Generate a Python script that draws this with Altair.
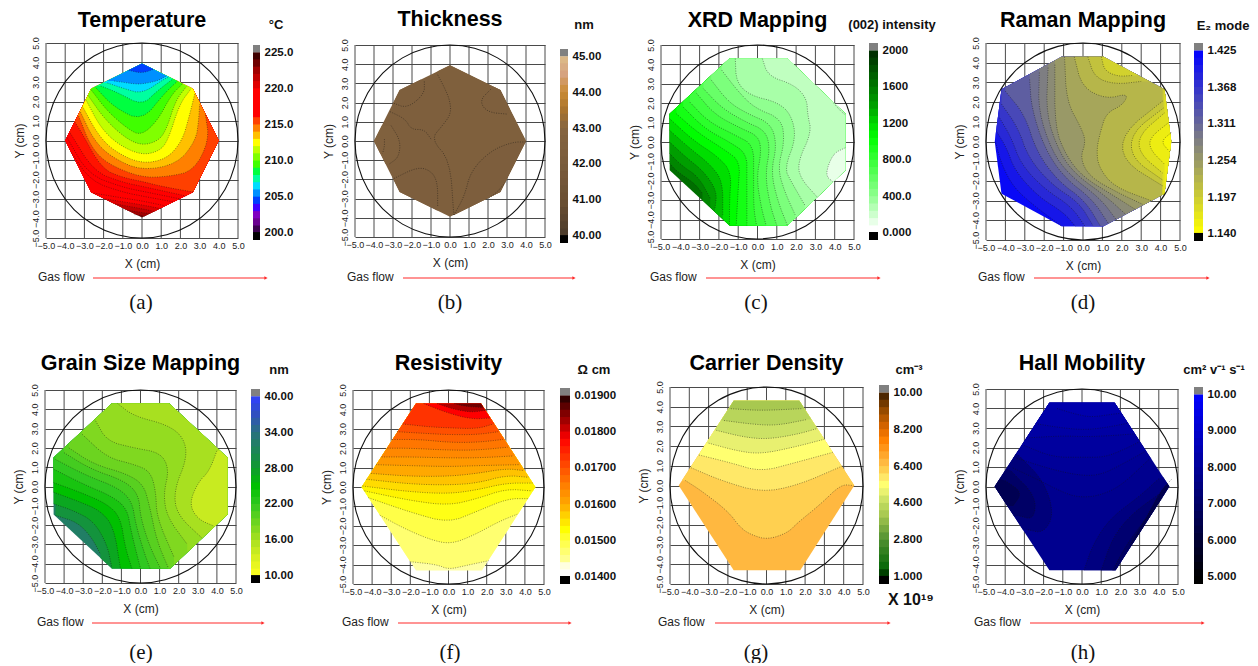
import altair as alt
import pandas as pd

FONT = "Liberation Sans"
SERIF = "Liberation Serif"
TICKS = [-5, -4, -3, -2, -1, 0, 1, 2, 3, 4, 5]

HULL_DIAMOND = [(0, 3.95), (-2.65, 2.65), (-4, 0), (-2.65, -2.65), (0, -3.95), (2.65, -2.65), (4, 0), (2.65, 2.65)]
HULL_C = [(-1.45, 4.3), (-4.55, 1.45), (-4.55, -1.45), (-1.45, -4.3), (1.55, -4.3), (4.55, -1.45), (4.55, 1.45), (1.55, 4.3)]
HULL_D = [(-1.1, 4.3), (-4.2, 2.65), (-4.55, 0), (-4.2, -2.65), (-1.1, -4.3), (1.05, -4.3), (4.2, -2.65), (4.55, 0), (4.2, 2.65), (1.05, 4.3)]
HULL_E = [(-1.5, 4.3), (-4.55, 1.5), (-4.55, -1.45), (-1.5, -4.25), (1.55, -4.25), (4.55, -1.45), (4.55, 1.5), (1.5, 4.3)]
HULL_HEX = [(-1.7, 4.3), (-4.55, 0), (-1.7, -4.3), (1.75, -4.3), (4.55, 0), (1.7, 4.3)]

# ---- colour-bar stops -------------------------------------------------
STOPS_A = [(200.5, "#3c0050"), (201.5, "#6a0090"), (202.5, "#8000c0"), (203.5, "#4000ff"), (204.5, "#0040ff"),
           (205.5, "#0090ff"), (206.5, "#00dcff"), (207.5, "#00ffa0"), (208.5, "#00ff40"), (209.5, "#40ff00"),
           (210.5, "#80ff00"), (211.5, "#c0ff00"), (212.5, "#ffff00"), (213.5, "#ffc000"), (214.5, "#ff8000"),
           (215.5, "#ff4000"), (216.5, "#ff0000"), (219.5, "#ff0000"), (220.5, "#e00000"), (221.5, "#c00000"),
           (222.5, "#a00000"), (223.5, "#700000"), (224.5, "#400000")]
STOPS_B = [(40, "#4a3a2a"), (41, "#6b5033"), (42, "#7a5c3c"), (43, "#86653f"), (43.5, "#a9742f"), (44, "#c98a33"),
           (44.5, "#d6a27f"), (45, "#dcbc88")]
STOPS_C = [(40, "#ffffff"), (120, "#e8ffe8"), (240, "#c0ffc0"), (400, "#90ff90"), (720, "#48ff48"), (1040, "#00ff00"),
           (1200, "#00d800"), (1360, "#00a800"), (1600, "#007800"), (1960, "#003000")]
STOPS_D = [(1.14, "#ffff00"), (1.2825, "#808080"), (1.425, "#0000ff")]
STOPS_E = [(10, "#ffff20"), (13, "#d8f020"), (16, "#a8e020"), (22, "#30c820"), (25, "#00c000"), (28, "#109a30"),
           (34, "#2a7080"), (37, "#3050c0"), (40, "#3040ff")]
STOPS_F = [(0.0141, "#ffffff"), (0.0143, "#ffffe0"), (0.0145, "#ffff90"), (0.0150, "#ffff40"), (0.0153, "#ffff00"),
           (0.0157, "#ffd000"), (0.0160, "#ffa800"), (0.0165, "#ff8000"), (0.0170, "#ff5000"), (0.0175, "#ff2000"),
           (0.0178, "#ff0000"), (0.0182, "#b00000"), (0.0186, "#700000"), (0.0189, "#300000")]
STOPS_G = [(1.18, "#004000"), (1.5, "#0a6a0a"), (2.8, "#509030"), (4.0, "#a8c850"), (4.6, "#c0dc60"), (5.1, "#e8f070"),
           (5.5, "#ffff70"), (5.85, "#ffe868"), (6.2, "#ffd050"), (6.6, "#ffb840"), (7.7, "#ff8000"), (8.2, "#e06800"),
           (9.0, "#a05000"), (9.8, "#502800")]
STOPS_H = [(5, "#000000"), (10, "#0000ff")]

# ---- contour curves: (band value, closure, curve[, extra closing points]) ----
BASE_A = 223.5
LINES_A = [
    (222.5, "U", [(-0.4, -3.8), (0, -3.85), (0.2, -3.9)]),
    (221.5, "U", [(-0.9, -3.55), (0, -3.7), (0.45, -3.75)]),
    (220.5, "U", [(-1.4, -3.25), (0, -3.5), (0.7, -3.65)]),
    (219.5, "U", [(-1.9, -3.0), (0, -3.3), (1, -3.5)]),
    (218.5, "U", [(-2.5, -2.7), (-1, -2.95), (0, -3.1), (1.2, -3.35)]),
    (217.5, "U", [(-3.7, -0.6), (-2.65, -2.1), (-1, -2.65), (0, -2.85), (1.65, -3.15)]),
    (216.5, "U", [(-3.9, 0.15), (-2.8, -1.75), (-1, -2.4), (0, -2.6), (2, -3)]),
    (216.2, "U", [(-3.75, 0.4), (-2.5, -1.6), (-1, -2.15), (0, -2.35), (2.3, -2.85)]),
    (215.5, "U", [(-3.5, 0.95), (-3.2, 0.5), (-2.1, -1.45), (-1, -1.9), (0, -2.1), (1, -2.35), (2.7, -2.65)]),
    (214.5, "U", [(-3.3, 1.25), (-2.65, -0.35), (-1.8, -1.2), (-0.05, -1.9), (1.4, -1.85), (2.7, -1.55), (3.5, 0), (3.3, 1.35)]),
    (213.5, "U", [(-3.2, 1.45), (-2.5, 0), (-1.6, -0.85), (-0.05, -1.55), (1.85, -1.2), (2.8, 0), (2.95, 1.0), (3.0, 1.85)]),
    (212.5, "U", [(-3.1, 1.75), (-2.3, 0.3), (-1.45, -0.55), (-0.05, -1.2), (1.3, -0.95), (2.1, 0), (2.45, 1.2), (2.75, 2.4)]),
    (211.5, "U", [(-2.9, 2.05), (-2.15, 0.65), (-1.25, -0.2), (-0.05, -0.75), (0.9, -0.55), (1.35, 0), (1.95, 1.85), (2.55, 2.65)]),
    (210.5, "U", [(-2.8, 2.3), (-1.95, 1.1), (-0.9, 0.15), (-0.05, -0.25), (0.8, -0.05), (1.25, 0.5), (1.75, 2.05), (2.3, 2.75)]),
    (209.5, "U", [(-2.65, 2.6), (-1.8, 1.5), (-0.75, 0.6), (-0.05, 0.25), (0.8, 1.0), (1.5, 2.3), (2.1, 2.9)]),
    (208.5, "U", [(-2.4, 2.7), (-1.45, 1.7), (0, 1.0), (1.15, 2.4), (1.85, 3.05)]),
    (207.5, "U", [(-2.15, 2.8), (-1.25, 2.45), (0, 1.8), (0.8, 2.55), (1.6, 3.15)]),
    (206.5, "U", [(-1.8, 2.95), (-0.9, 2.65), (0, 2.4), (1.15, 3.15), (1.4, 3.25)]),
    (205.5, "U", [(-1.45, 3.05), (-0.4, 2.9), (0, 2.9), (0.8, 3.05), (1.25, 3.3)]),
    (204.5, "U", [(-0.7, 3.6), (0, 3.45), (0.6, 3.65)]),
]

BASE_B = 42.35
LINES_B = [
    (42.45, "C", [(-0.65, 3.45), (-0.3, 2.8), (0, 2.1), (0.05, 1.4), (-0.4, 0.8), (-1.0, 0.1), (0.0, -1.0), (0.2, -3.85)], [(5, -5), (5, 5), (-0.65, 5)]),
    (42.3, "C", [(-1.35, 3.1), (-1.35, 2.45), (-2.25, 1.7), (-3.05, 2.0)], [(-5, 5)]),
    (42.3, "C", [(2.15, 2.7), (1.55, 2.1), (1.95, 1.5), (3.0, 1.4)], [(5, 5)]),
    (42.25, "C", [(0.2, -3.85), (0.75, -2.9), (1.1, -1.55), (2.15, -0.5), (3.3, -0.05), (4, -0.05)], [(5, -5)]),
    (42.25, "C", [(-2.95, -1.95), (-1.7, -1.35), (-1.0, -1.55), (-0.65, -2.15), (-0.65, -3.45)], [(-0.65, -5), (-5, -5)]),
    (42.5, "C", [(-3.1, 0.8), (-2.6, 0), (-2.7, -0.85), (-3.2, -1.2)], [(-5, -1.2), (-5, 0.8)]),
    (42.6, "C", [(-3.45, 0.1), (-3.45, -0.3), (-3.55, -0.65)], [(-5, -0.65), (-5, 0.1)]),
]
EXTRA_B = [
    [(-1.0, 0.1), (-1.35, 0.6), (-2.05, 0.6), (-2.35, 1.15), (-3.2, 1.55)],
    [(3, -2.05), (2.5, -2.65), (2, -3)],
]

BASE_C = 1650
LINES_C = [
    (1530, "R", [(-4.55, -1.1), (-4.2, -1.5), (-3.3, -2.1), (-2.85, -2.65)]),
    (1410, "R", [(-4.55, -0.6), (-3.95, -1.2), (-3.05, -1.8), (-2.45, -2.9)]),
    (1290, "R", [(-4.55, 0.0), (-3.75, -0.75), (-2.75, -1.55), (-2.1, -2.55), (-2.2, -3.4)]),
    (1170, "R", [(-4.55, 0.6), (-3.6, -0.25), (-2.4, -1.2), (-1.8, -2.05), (-1.8, -3.75)]),
    (1050, "R", [(-4.55, 1.2), (-3.35, 0.1), (-2.05, -0.75), (-1.35, -1.55), (-1.45, -3.05), (-1.45, -4.3)]),
    (950, "R", [(-4.2, 1.45), (-3.05, 0.45), (-1.7, -0.4), (-0.9, -1.0), (-1.0, -2.4), (-1.1, -4.3)]),
    (850, "R", [(-3.85, 1.8), (-2.75, 0.7), (-1.45, 0), (-0.55, -0.6), (-0.55, -1.85), (-0.55, -3.6), (-0.55, -4.3)]),
    (760, "R", [(-3.5, 2.05), (-2.55, 1.05), (-1.15, 0.35), (-0.2, -0.15), (-0.2, -1.7), (-0.2, -3.4), (-0.05, -4.3)]),
    (670, "R", [(-3.15, 2.5), (-2.2, 1.4), (-0.85, 0.7), (0.05, 0.3), (0.2, -0.5), (-0.05, -1.85), (0.2, -3.4), (0.45, -4.3)]),
    (580, "R", [(-2.8, 2.75), (-1.85, 1.75), (-0.65, 1.05), (0.4, 0.6), (0.65, -0.3), (0.4, -1.7), (0.65, -3.25), (1.0, -4.3)]),
    (490, "R", [(-2.4, 3.2), (-1.5, 2.05), (-0.5, 1.45), (0.7, 0.95), (1.0, -0.15), (0.7, -1.55), (1.05, -3.05), (1.55, -4.3)]),
    (400, "R", [(-1.85, 3.7), (-1.0, 2.6), (-0.15, 1.75), (1.25, 1.2), (1.4, 0), (1.05, -1.35), (1.4, -2.55), (1.95, -3.75)]),
    (320, "R", [(-1.15, 4.3), (-1.1, 3.1), (-0.4, 2.4), (1.05, 2.05), (1.75, 1.4), (2.0, 0.2), (1.4, -1.35), (1.75, -2.05), (2.45, -3.25)]),
    (240, "R", [(0.25, 4.3), (0.55, 3.4), (1.9, 2.95), (2.55, 2.25), (2.6, 1.4), (2.8, 0.5), (2.1, -1.0), (2.2, -1.85), (3.15, -2.9)]),
    (120, "C", [(4.55, -0.3), (3.9, -0.6), (3.5, -1.7), (3.9, -2.05)], [(5, -3)]),
]
EXTRA_C = [[(3.95, 2.0), (4.3, 1.6), (4.55, 1.4)]]

BASE_D = 1.415
LINES_D = [
    (1.40, "R", [(-4.5, -0.05), (-4.2, -1.15), (-3.6, -2.3), (-2.6, -3.2), (-1.1, -4.3)]),
    (1.38, "R", [(-4.45, 0.5), (-3.95, -0.3), (-3.5, -1.5), (-2.3, -2.8), (-1.0, -3.6), (-0.4, -4.3)]),
    (1.365, "R", [(-4.3, 1.2), (-3.7, 0.2), (-3.2, -1.15), (-2, -2.4), (-0.6, -3.3), (0.1, -4.3)]),
    (1.345, "R", [(-4.2, 1.9), (-3.35, 0.7), (-2.8, -0.85), (-1.6, -2.2), (-0.2, -3.1), (0.5, -4.25)]),
    (1.32, "R", [(-4.0, 2.55), (-3.0, 1.35), (-2.4, -0.5), (-1.3, -2.0), (0.1, -3.0), (0.9, -4.3)]),
    (1.30, "R", [(-2.75, 3.15), (-2.65, 1.7), (-2.0, -0.3), (-1.0, -1.8), (0.5, -2.95), (1.3, -4.15)]),
    (1.285, "R", [(-2.25, 3.5), (-2.3, 1.55), (-1.6, -0.5), (-0.7, -1.7), (0.9, -2.9), (1.7, -3.95)]),
    (1.27, "R", [(-1.8, 3.75), (-1.9, 1.35), (-1.2, -0.6), (-0.35, -1.7), (1.2, -2.8), (2.2, -3.7)]),
    (1.255, "R", [(-1.45, 3.9), (-1.45, 0.7), (-0.85, -0.75), (0, -1.8), (1.5, -2.7), (2.7, -3.45)]),
    (1.24, "R", [(-0.95, 4.3), (-0.85, 2.05), (-0.1, 0.7), (0.15, 0), (-0.15, -0.85), (0.35, -1.8), (1.8, -2.6), (3.1, -3.2)]),
    (1.222, "R", [(-0.45, 4.3), (-0.05, 2.75), (1.2, 2.15), (2.35, 2.45), (2.05, 1.85), (1.2, 1.45), (0.9, 0.5), (0.7, -0.4), (0.8, -1.3), (1.6, -2.3), (3.5, -3.0)]),
    (1.205, "R", [(4.1, 2.05), (2.05, 0.45), (2.05, -1), (4.1, -2.25)]),
    (1.19, "R", [(4.15, 1.7), (2.5, 0.45), (2.5, -0.85), (4.1, -1.95)]),
    (1.175, "R", [(4.2, 1.45), (2.9, 0.35), (2.9, -0.6), (4.1, -1.6)]),
    (1.16, "R", [(4.4, 0.95), (3.45, 0.2), (3.45, -0.4), (4.2, -1.15)]),
    (1.148, "R", [(4.55, 0.45), (4.0, 0), (4.5, -0.55)]),
    (1.208, "U", [(0.25, 4.3), (0.6, 3.25), (1.65, 2.9), (3.0, 3.05)]),
    (1.19, "U", [(0.95, 4.3), (1.1, 3.6), (1.8, 3.3), (2.55, 3.35)]),
]

BASE_E = 32
LINES_E = [
    (29, "R", [(-4.45, -1.5), (-3.3, -1.85), (-2.55, -2.65), (-2.1, -3.5)]),
    (27, "R", [(-4.55, -0.9), (-3.5, -1.25), (-2.45, -1.8), (-1.75, -3.0), (-1.5, -4.2)]),
    (25, "R", [(-4.55, -0.3), (-3.3, -0.75), (-2.1, -1.25), (-1.4, -2.1), (-1.05, -4.25)]),
    (23.5, "R", [(-4.55, 0.2), (-3.15, -0.3), (-1.75, -0.9), (-1.05, -1.6), (-0.8, -3.15), (-0.45, -4.25)]),
    (22, "R", [(-4.55, 0.9), (-2.95, 0.1), (-1.5, -0.5), (-0.7, -1.15), (-0.5, -2.3), (0, -4.25)]),
    (21, "R", [(-4.45, 1.4), (-2.8, 0.55), (-1.2, -0.05), (-0.45, -0.75), (-0.25, -1.95), (0.15, -3.3), (0.5, -4.25)]),
    (20, "R", [(-4.0, 1.75), (-2.6, 0.9), (-0.85, 0.3), (-0.1, -0.4), (0, -1.6), (0.5, -3.15), (1.05, -4.25)]),
    (19, "R", [(-3.75, 2.0), (-2.45, 1.15), (-0.7, 0.65), (0.15, 0.1), (0.45, -0.9), (0.85, -2.8), (1.45, -4.2)]),
    (18, "R", [(-3.05, 2.7), (-1.75, 1.5), (-0.35, 1.15), (0.5, 0.8), (0.8, -0.2), (0.85, -1.6), (1.75, -3.65)]),
    (17, "R", [(-2.35, 3.4), (-1.75, 2.35), (-0.35, 2.0), (1.05, 1.75), (1.5, 0.9), (1.2, -0.4), (1.4, -1.6), (2.45, -3.0)]),
    (16, "R", [(-1.2, 4.3), (-0.35, 3.65), (1.4, 3.2), (2.25, 2.55), (2.45, 1.5), (1.75, -0.2), (1.9, -1.45), (3.25, -2.7)]),
    (14, "C", [(4.0, 1.85), (3.6, 0.8), (3.0, 0.2), (2.55, -0.9), (3.0, -1.7), (3.85, -2.05)], [(5, -2.05), (5, 1.85)]),
]

BASE_F = 0.01445
LINES_F = [
    (0.0147, "U", [(-2.0, -3.85), (-0.6, -4.0), (0, -4.25), (0.9, -4.05), (2.1, -3.8)]),
    (0.01495, "U", [(-3.6, -1.45), (-2.4, -2.1), (-1, -2.7), (0.1, -2.95), (1.3, -2.5), (2.6, -1.8), (3.6, -1.4)]),
    (0.0152, "U", [(-4.2, -0.55), (-2, -1.3), (0, -1.85), (1.5, -1.25), (3.1, -0.6), (4.15, -0.6)]),
    (0.0154, "U", [(-4.4, -0.2), (-2, -0.7), (0, -0.95), (1.5, -0.6), (3, -0.1), (4.35, -0.2)]),
    (0.0156, "U", [(-4.5, 0.05), (-2, -0.25), (0, -0.35), (1.5, -0.15), (3, 0.2), (4.4, 0.2)]),
    (0.0158, "U", [(-4.3, 0.4), (-2, 0.15), (0, 0.1), (1.5, 0.2), (3, 0.6), (4.2, 0.5)]),
    (0.0160, "U", [(-4.05, 0.7), (-2, 0.55), (0, 0.55), (1.5, 0.7), (3, 0.95), (3.95, 0.85)]),
    (0.0162, "U", [(-3.8, 1.15), (-2, 1.1), (0, 1.05), (1.5, 1.1), (3.7, 1.15)]),
    (0.0164, "U", [(-3.5, 1.55), (-2, 1.55), (0, 1.5), (1.5, 1.5), (3.4, 1.6)]),
    (0.0166, "U", [(-3.2, 2.0), (-2, 2.0), (0, 1.9), (1.5, 1.9), (3.1, 2.05)]),
    (0.0168, "U", [(-2.95, 2.45), (-1.5, 2.45), (0, 2.3), (1.5, 2.3), (2.85, 2.45)]),
    (0.0170, "U", [(-2.7, 2.85), (-1, 2.75), (0, 2.7), (1.5, 2.7), (2.6, 2.85)]),
    (0.0173, "U", [(-2.4, 3.25), (-1, 3.1), (0, 3.05), (1.5, 3.0), (2.35, 3.25)]),
    (0.0178, "U", [(-1.3, 4.3), (0, 3.8), (1.2, 3.5), (2.15, 3.55)]),
    (0.0182, "U", [(-0.6, 4.3), (0.3, 4.0), (1.2, 3.85), (1.95, 3.95)]),
    (0.0186, "U", [(0.3, 4.3), (0.9, 4.15), (1.8, 4.1)]),
]

BASE_G = 6.6
LINES_G = [
    (6.2, "U", [(-4.2, 0.25), (-3.4, -0.25), (-2, -1.3), (-1.35, -2.15), (-0.8, -2.5), (0.05, -2.75), (1.1, -2.4), (1.6, -1.9), (2.8, -0.95), (3.85, 0.05), (4.5, 0)]),
    (5.85, "U", [(-3.9, 0.9), (-2.35, 0.25), (-0.3, -0.35), (1.6, 0), (3.95, 1.0)]),
    (5.5, "U", [(-3.5, 1.55), (-1.85, 1.15), (-0.3, 0.7), (1.45, 1.15), (3.5, 1.7)]),
    (5.1, "U", [(-3.0, 2.15), (-1.5, 1.75), (-0.3, 1.6), (1.45, 1.95), (3.0, 2.35)]),
    (4.75, "U", [(-2.6, 2.8), (-1.15, 2.45), (0.05, 2.35), (1.6, 2.6), (2.65, 2.9)]),
    (4.4, "U", [(-2.2, 3.3), (-0.65, 3.1), (0.55, 3.05), (2.1, 3.35)]),
    (4.0, "U", [(-1.85, 3.9), (-0.3, 3.8), (1.8, 3.9)]),
]

BASE_H = 7.8
LINES_H = [
    (7.9, "U", [(-3.6, 0.95), (-2.4, 0.4), (-1, -0.3), (-0.2, -0.55), (0.8, -0.5), (2, 0.0), (3.5, 1.4)]),
    (8.0, "U", [(-3.4, 1.45), (-1.5, 0.85), (0, 0.55), (1, 0.6), (2.2, 1.2), (3.3, 1.8)]),
    (8.1, "U", [(-3, 2.1), (-1.5, 1.5), (0, 1.5), (1.2, 1.5), (2.3, 1.95), (3.0, 2.3)]),
    (8.2, "U", [(-2.75, 2.5), (-1, 2.6), (0.2, 2.55), (1.4, 2.6), (2.75, 2.7)]),
    (8.3, "U", [(-2.3, 3.2), (-1, 3.0), (0.2, 2.9), (1.4, 3.05), (2.4, 3.25)]),
    (8.4, "U", [(-1.3, 4.0), (-0.3, 3.7), (0.5, 3.55), (1.5, 3.7), (2, 3.75)]),
    (7.4, "C", [(-3.3, 1.6), (-2, 0.3), (-1.45, -1.4), (-2, -2.4), (-2.9, -2.2)], [(-6, -3), (-6, 3)]),
    (7.0, "C", [(-3.7, 0.8), (-2.4, -0.5), (-2.5, -1.7), (-3.3, -1.5)], [(-6, -2), (-6, 2)]),
    (6.6, "C", [(-4, 0.3), (-3.1, -0.3), (-3.6, -1)], [(-6, -1), (-6, 1)]),
    (7.5, "C", [(0.1, -4.3), (0.6, -2.9), (1.5, -1.6), (3, -0.5), (4, 0.4)], [(6, 1), (6, -6), (0.1, -6)]),
    (7.2, "C", [(1, -4.3), (1.6, -2.6), (2.6, -1.4), (4.0, -0.4)], [(6, 0), (6, -6), (1, -6)]),
    (6.9, "C", [(1.6, -4.3), (2.3, -3), (3.2, -1.8), (4.2, -0.6)], [(6, 0), (6, -6), (1.6, -6)]),
    (6.5, "C", [(2.5, -3), (3.4, -1.5), (4.1, -0.2), (4.7, 0.4)], [(6, 0.4), (6, -6)]),
]

# title, unit, lo, hi, ticks, stops, hull, base, lines, extra
SPECS = {
    "a": ("Temperature", "°C", 200, 225, [200, 205, 210, 215, 220, 225], STOPS_A, HULL_DIAMOND, BASE_A, LINES_A, []),
    "b": ("Thickness", "nm", 40, 45, [40, 41, 42, 43, 44, 45], STOPS_B, HULL_DIAMOND, BASE_B, LINES_B, EXTRA_B),
    "c": ("XRD Mapping", "(002) intensity", 0, 2000, [0, 400, 800, 1200, 1600, 2000], STOPS_C, HULL_C, BASE_C, LINES_C, EXTRA_C),
    "d": ("Raman Mapping", "E₂ mode", 1.14, 1.425, [1.14, 1.197, 1.254, 1.311, 1.368, 1.425], STOPS_D, HULL_D, BASE_D, LINES_D, []),
    "e": ("Grain Size Mapping", "nm", 10, 40, [10, 16, 22, 28, 34, 40], STOPS_E, HULL_E, BASE_E, LINES_E, []),
    "f": ("Resistivity", "Ω cm", 0.014, 0.019, [0.014, 0.015, 0.016, 0.017, 0.018, 0.019], STOPS_F, HULL_HEX, BASE_F, LINES_F, []),
    "g": ("Carrier Density", "cm⁻³", 1, 10, [1, 2.8, 4.6, 6.4, 8.2, 10], STOPS_G, HULL_HEX, BASE_G, LINES_G, []),
    "h": ("Hall Mobility", "cm² v⁻¹ s⁻¹", 5, 10, [5, 6, 7, 8, 9, 10], STOPS_H, HULL_HEX, BASE_H, LINES_H, []),
}

GEOM = {
    "a": (45, 237, 42, 237, 252, 259, 44, 239, 26, 275, 28, 37, 92, 265, 277, 140, 302),
    "b": (354, 544, 44, 236, 559, 567, 48, 242, 25, 583, 28, 346, 402, 573, 277, 449, 302),
    "c": (660, 853, 44, 238, 868, 877, 42, 239, 26, 891, 28, 649, 705, 878, 277, 755, 302),
    "d": (985, 1179, 42, 239, 1193, 1202, 42, 240, 26, 1222, 29, 977, 1033, 1207, 277, 1082, 302),
    "e": (44, 235, 389, 582, 250, 259, 388, 582, 369, 278, 373, 36, 91, 262, 622, 140, 652),
    "f": (352, 543, 389, 583, 559, 569, 387, 583, 369, 593, 373, 341, 397, 569, 622, 449, 652),
    "g": (669, 862, 386, 583, 878, 888, 384, 583, 369, 908, 373, 657, 714, 888, 622, 755, 652),
    "h": (985, 1177, 388, 583, 1193, 1202, 386, 583, 369, 1213, 373, 973, 1029, 1202, 622, 1082, 652),
}
CIRCLE_X = [5.0, 4.83, 4.33, 3.54, 2.5, 1.29, 0.0, -1.29, -2.5, -3.54, -4.33, -4.83, -5.0, -4.83, -4.33, -3.54, -2.5, -1.29, 0.0, 1.29, 2.5, 3.54, 4.33, 4.83]
CIRCLE_Y = [0.0, 1.29, 2.5, 3.54, 4.33, 4.83, 5.0, 4.83, 4.33, 3.54, 2.5, 1.29, 0.0, -1.29, -2.5, -3.54, -4.33, -4.83, -5.0, -4.83, -4.33, -3.54, -2.5, -1.29]


def rounded(line, rounds=2):
    pts = list(line)
    for _ in range(rounds):
        new = [pts[0]]
        for p, q in zip(pts, pts[1:]):
            new.append((0.75 * p[0] + 0.25 * q[0], 0.75 * p[1] + 0.25 * q[1]))
            new.append((0.25 * p[0] + 0.75 * q[0], 0.25 * p[1] + 0.75 * q[1]))
        new.append(pts[-1])
        pts = new
    return pts


def clip(poly, hull):
    out = list(poly)
    n = len(hull)
    for i in range(n):
        ax, ay = hull[i]
        bx, by = hull[(i + 1) % n]
        inside = lambda p: (bx - ax) * (p[1] - ay) - (by - ay) * (p[0] - ax) >= 0
        src, out = out, []
        for j in range(len(src)):
            p, q = src[j], src[(j + 1) % len(src)]
            ip, iq = inside(p), inside(q)
            if ip:
                out.append(p)
            if ip != iq:
                dx, dy = q[0] - p[0], q[1] - p[1]
                denom = (bx - ax) * dy - (by - ay) * dx
                t = -((bx - ax) * (p[1] - ay) - (by - ay) * (p[0] - ax)) / denom
                out.append((p[0] + t * dx, p[1] + t * dy))
        if not out:
            break
    return out


def closed(entry):
    mode, line = entry[1], rounded(entry[2])
    x0, y0 = line[0]
    xn, yn = line[-1]
    if mode == "R":
        return [(x0, 9)] + line + [(xn, -9), (9, -9), (9, 9)]
    if mode == "U":
        return [(-9, y0)] + line + [(9, yn), (9, 9), (-9, 9)]
    return line + entry[3]


def spacer(w, h):
    return alt.Chart(pd.DataFrame({"a": [0]})).mark_point(opacity=0).encode(
        x=alt.value(0), y=alt.value(0)).properties(width=w, height=h)


def color_scale(stops):
    return alt.Scale(domain=[s[0] for s in stops], range=[s[1] for s in stops], interpolate="rgb")


def map_chart(key, top):
    title, unit, lo, hi, ticks, stops, hull, base, lines, extra = SPECS[key]
    L, R, T, B, bl, br, bt, bb, tb, uc, ub, gl, a0, a1, ay, cx, cy = GEOM[key]
    w, h = R - L, B - T
    full_h = B - top
    fx = lambda p: (p - (L + R) / 2) / (w / 10)
    fy = lambda p: ((T + B) / 2 - p) / (h / 10)
    xs = alt.Scale(domain=[-5, 5], nice=False, zero=False)
    ys = alt.Scale(domain=[-5, 5], nice=False, zero=False, range=[full_h, T - top])
    x_axis = alt.Axis(values=TICKS, format=".1f", labelFontSize=9, labelFont=FONT,
                      labelColor="#222222", labelOverlap=False, labelFlush=False, tickSize=0, domain=False,
                      grid=False, labelPadding=3, title="X (cm)", titleFont=FONT,
                      titleFontSize=12, titleFontWeight="normal", titleColor="#222222", titlePadding=8)
    y_axis = alt.Axis(values=TICKS, format=".1f", labelFontSize=9, labelFont=FONT,
                      labelColor="#222222", labelOverlap=False, labelFlush=False, labelAngle=270, labelAlign="center",
                      labelBaseline="bottom", tickSize=0, domain=False, grid=True, gridColor="#4a4a4a", gridWidth=1,
                      labelPadding=6, title="Y (cm)", titleFont=FONT, titleFontSize=12, titleFontWeight="normal",
                      titleColor="#222222", titlePadding=5)
    X = lambda f="x": alt.X(f + ":Q", scale=xs, axis=x_axis)
    Y = lambda f="y": alt.Y(f + ":Q", scale=ys, axis=y_axis)
    fill = alt.Fill("v:Q", legend=None, scale=color_scale(stops))

    rows, contour = [], []
    polys = [(base, hull)]
    for e in lines:
        polys.append((e[0], clip(closed(e), hull)))
    for k, (v, pts) in enumerate(polys):
        for i, (x, y) in enumerate(pts):
            rows.append({"k": k, "i": i, "x": x, "y": y, "v": v})
    c = 0
    for ln in [e[2] for e in lines] + list(extra):
        for i, (x, y) in enumerate(rounded(ln)):
            contour.append({"k": c, "i": i, "x": x, "y": y})
        c += 1

    vgrid = alt.Chart(pd.DataFrame({"x": TICKS, "y": [-5] * 11, "y2": [5] * 11})).mark_rule(
        color="#4a4a4a", strokeWidth=1).encode(x=X(), y=Y(), y2="y2:Q")
    fills = alt.Chart(pd.DataFrame(rows)).mark_line(stroke=None, strokeWidth=0).encode(
        x=X(), y=Y(), fill=fill, detail="k:N", order="i:Q")
    dots = alt.Chart(pd.DataFrame(contour)).mark_line(color="#111111", strokeWidth=0.6, strokeDash=[1, 1.4], opacity=0.75).encode(
        x=X(), y=Y(), detail="k:N", order="i:Q")
    circle = alt.Chart(pd.DataFrame({"x": CIRCLE_X, "y": CIRCLE_Y, "i": range(len(CIRCLE_X))})).mark_line(
        color="#111111", strokeWidth=1.1, interpolate="cardinal-closed").encode(x=X(), y=Y(), order="i:Q")

    note = pd.DataFrame({"x": [fx(gl)], "y": [fy(ay - 1)], "t": ["Gas flow"]})
    gas = alt.Chart(note).mark_text(align="left", baseline="middle", font=FONT, fontSize=12, color="#222222").encode(
        x=X(), y=Y(), text="t:N")
    arrow_df = pd.DataFrame({"x": [fx(a0)], "x2": [fx(a1)], "y": [fy(ay)]})
    arrow = alt.Chart(arrow_df).mark_rule(color="#ff2a2a", strokeWidth=1.2).encode(x=X(), x2="x2:Q", y=Y())
    tip = alt.Chart(arrow_df).mark_point(shape="triangle-right", filled=True, color="#ff2a2a", size=14, opacity=1).encode(
        x=X("x2"), y=Y())
    cap_df = pd.DataFrame({"x": [fx(cx)], "y": [fy(cy)], "t": ["(" + key + ")"]})
    cap = alt.Chart(cap_df).mark_text(align="center", baseline="middle", font=SERIF, fontSize=21, color="#111111").encode(
        x=X(), y=Y(), text="t:N")
    head_df = pd.DataFrame({"x": [0.0], "y": [fy(tb)], "t": [title]})
    head = alt.Chart(head_df).mark_text(align="center", baseline="alphabetic", font=FONT, fontSize=21.5, fontWeight="bold",
                                        color="#000000").encode(x=X(), y=Y(), text="t:N")

    return alt.layer(vgrid, fills, dots, circle, gas, arrow, tip, cap, head).properties(width=w, height=full_h)


def bar_chart(key, top):
    title, unit, lo, hi, ticks, stops, hull, base, lines, extra = SPECS[key]
    L, R, T, B, bl, br, bt, bb, tb, uc, ub, gl, a0, a1, ay, cx, cy = GEOM[key]
    step = (hi - lo) / 25
    full_h = bb - top
    fy = lambda p: lo - step + (bb - p) / (bb - bt) * (hi - lo + 2 * step)
    ys = alt.Scale(domain=[lo - step, hi + step], nice=False, zero=False, range=[full_h, bt - top])
    axis = alt.Axis(orient="right", values=ticks, title=None, domain=False,
                    labelExpr='datum.value === 0 ? "0.000" : format(datum.value, ".4r")',
                    tickSize=0, grid=False, labelFont=FONT, labelFontSize=11.5, labelFontWeight="bold", labelColor="#111111",
                    labelPadding=4, labelOverlap=False, labelFlush=False)
    Y = alt.Y("y:Q", scale=ys, axis=axis)
    rows = [{"y": lo + i * step, "y2": lo + (i + 1.12 if i < 24 else i + 1) * step, "v": lo + (i + 0.5) * step} for i in range(25)]
    steps = alt.Chart(pd.DataFrame(rows)).mark_rect().encode(
        y=Y, y2="y2:Q", fill=alt.Fill("v:Q", legend=None, scale=color_scale(stops)))
    cap_top = alt.Chart(pd.DataFrame({"y": [hi], "y2": [hi + step]})).mark_rect(color="#808080").encode(y=Y, y2="y2:Q")
    cap_low = alt.Chart(pd.DataFrame({"y": [lo - step], "y2": [lo + 0.1 * step]})).mark_rect(color="#000000").encode(y=Y, y2="y2:Q")
    unit_df = pd.DataFrame({"y": [fy(ub)], "t": [unit]})
    unit_text = alt.Chart(unit_df).mark_text(align="center", baseline="alphabetic", font=FONT, fontSize=13, fontWeight="bold",
                                             color="#111111").encode(x=alt.value(uc - bl), y=Y, text="t:N")
    parts = [steps, cap_top, cap_low, unit_text]
    if key == "g":
        exp = alt.Chart(pd.DataFrame({"y": [fy(604)], "t": ["X 10¹⁹"]})).mark_text(
            align="left", baseline="alphabetic", font=FONT, fontSize=16, fontWeight="bold", color="#111111").encode(
            x=alt.value(9), y=Y, text="t:N")
        parts.append(exp)
    return alt.layer(*parts).properties(width=br - bl, height=full_h)


def row(keys, top):
    items = []
    cursor = 10
    for k in keys:
        g = GEOM[k]
        items.append(spacer(g[0] - cursor, 1))
        items.append(map_chart(k, top))
        items.append(spacer(g[4] - g[1], 1))
        items.append(bar_chart(k, top))
        cursor = g[5]
    return alt.hconcat(*items, spacing=0, bounds="flush").resolve_scale(fill="independent")


ROW1_TOP = 42
ROW2_TOP = 384
chart = alt.vconcat(spacer(1, ROW1_TOP - 11), row(list("abcd"), ROW1_TOP), spacer(1, ROW2_TOP - ROW1_TOP), row(list("efgh"), ROW2_TOP),
                    spacing=0, bounds="flush").resolve_scale(fill="independent").properties(padding=0, background="white").configure_view(stroke=None)

chart.save("out.html", embed_options={"renderer": "svg", "actions": False})
